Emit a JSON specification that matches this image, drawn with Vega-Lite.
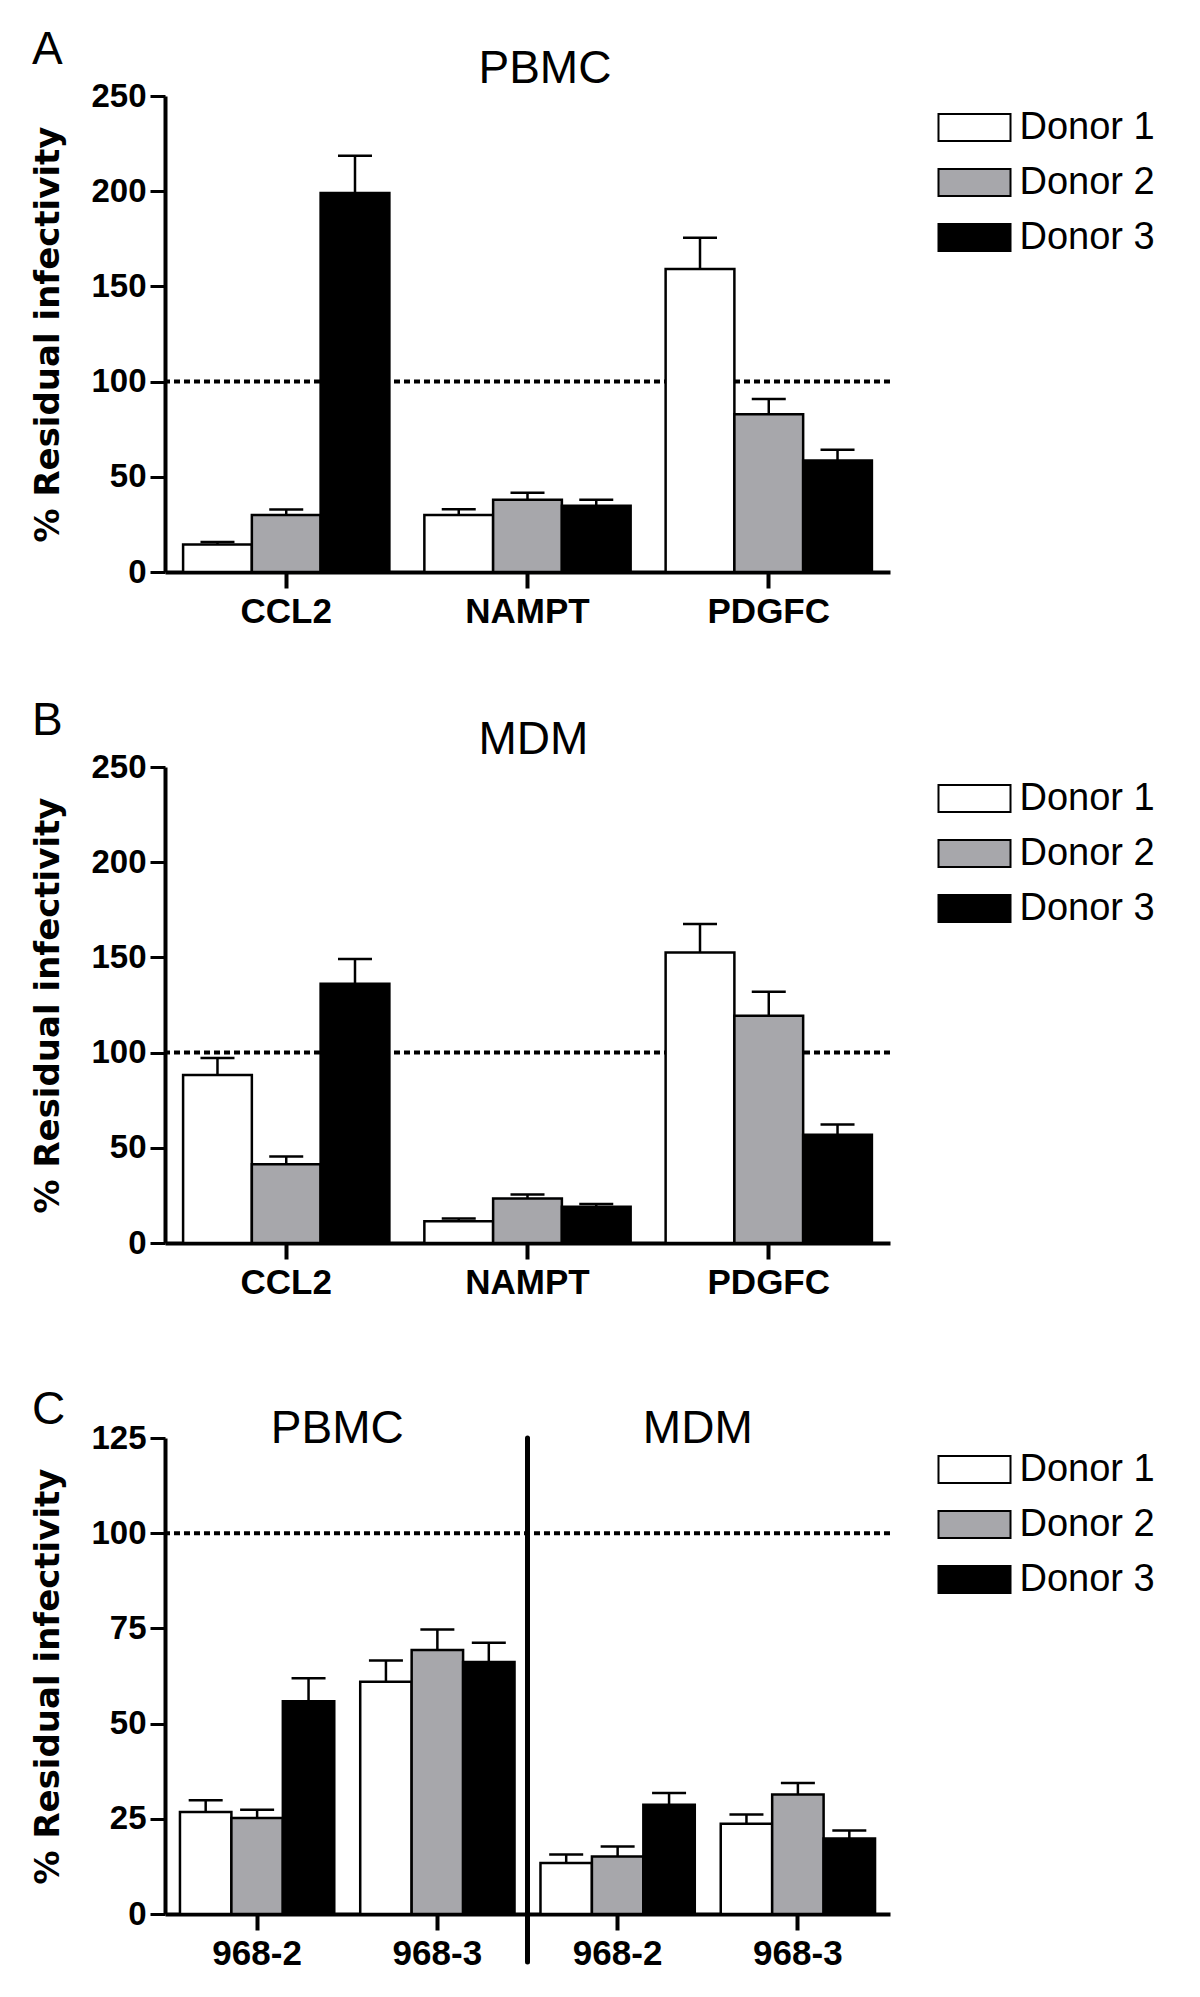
{
  "$schema": "https://vega.github.io/schema/vega-lite/v6.json",
  "background": "white",
  "padding": {"left": 31, "top": 26, "right": 0, "bottom": 0},
  "autosize": {"type": "pad"},
  "config": {
    "view": {"stroke": null},
    "font": "Liberation Sans",
    "axis": {"domainColor": "black", "domainWidth": 4, "tickColor": "black", "labelColor": "black", "labelFont": "Liberation Sans", "labelFontWeight": "bold", "labelFontSize": 33, "grid": false, "titleColor": "black"},
    "axisY": {"tickSize": 15, "tickWidth": 3, "labelPadding": 4, "titleFont": "DejaVu Sans", "titleFontWeight": "bold", "titleFontSize": 34, "titlePadding": 25},
    "axisX": {"tickSize": 16, "tickWidth": 4, "labelPadding": 6, "labelAngle": 0, "labelFontSize": 35},
    "legend": {"orient": "right", "offset": 35.5, "padding": 12.5, "labelFont": "Liberation Sans", "labelFontSize": 38, "labelColor": "black", "labelOffset": 26, "symbolOffset": 17, "rowPadding": 17, "symbolSize": 729, "symbolStrokeColor": "black", "symbolStrokeWidth": 2},
    "title": {"anchor": "start", "frame": "bounds", "font": "Liberation Sans", "fontSize": 46, "fontWeight": "normal", "color": "black", "offset": 0, "baseline": "alphabetic", "dy": 31.5}
  },
  "datasets": {
    "pbmc": [
      {"cat": "CCL2", "donor": "Donor 1", "value": 14.5, "upper": 15.8},
      {"cat": "CCL2", "donor": "Donor 2", "value": 30.0, "upper": 32.8},
      {"cat": "CCL2", "donor": "Donor 3", "value": 199.0, "upper": 218.6},
      {"cat": "NAMPT", "donor": "Donor 1", "value": 30.0, "upper": 33.0},
      {"cat": "NAMPT", "donor": "Donor 2", "value": 38.0, "upper": 41.6},
      {"cat": "NAMPT", "donor": "Donor 3", "value": 34.8, "upper": 38.0},
      {"cat": "PDGFC", "donor": "Donor 1", "value": 159.2, "upper": 175.5},
      {"cat": "PDGFC", "donor": "Donor 2", "value": 82.8, "upper": 90.8},
      {"cat": "PDGFC", "donor": "Donor 3", "value": 58.6, "upper": 64.2}
    ],
    "mdm": [
      {"cat": "CCL2", "donor": "Donor 1", "value": 88.2, "upper": 97.2},
      {"cat": "CCL2", "donor": "Donor 2", "value": 41.3, "upper": 45.4},
      {"cat": "CCL2", "donor": "Donor 3", "value": 136.2, "upper": 149.2},
      {"cat": "NAMPT", "donor": "Donor 1", "value": 11.4, "upper": 12.9},
      {"cat": "NAMPT", "donor": "Donor 2", "value": 23.4, "upper": 25.5},
      {"cat": "NAMPT", "donor": "Donor 3", "value": 19.0, "upper": 20.5},
      {"cat": "PDGFC", "donor": "Donor 1", "value": 152.6, "upper": 167.5},
      {"cat": "PDGFC", "donor": "Donor 2", "value": 119.4, "upper": 131.9},
      {"cat": "PDGFC", "donor": "Donor 3", "value": 56.8, "upper": 62.2}
    ],
    "clones": [
      {"cat": "PBMC|968-2", "donor": "Donor 1", "value": 26.8, "upper": 29.9},
      {"cat": "PBMC|968-2", "donor": "Donor 2", "value": 25.2, "upper": 27.4},
      {"cat": "PBMC|968-2", "donor": "Donor 3", "value": 55.9, "upper": 61.9},
      {"cat": "PBMC|968-3", "donor": "Donor 1", "value": 61.0, "upper": 66.6},
      {"cat": "PBMC|968-3", "donor": "Donor 2", "value": 69.3, "upper": 74.7},
      {"cat": "PBMC|968-3", "donor": "Donor 3", "value": 66.2, "upper": 71.2},
      {"cat": "MDM|968-2", "donor": "Donor 1", "value": 13.4, "upper": 15.6},
      {"cat": "MDM|968-2", "donor": "Donor 2", "value": 15.1, "upper": 17.7},
      {"cat": "MDM|968-2", "donor": "Donor 3", "value": 28.7, "upper": 31.8},
      {"cat": "MDM|968-3", "donor": "Donor 1", "value": 23.7, "upper": 26.1},
      {"cat": "MDM|968-3", "donor": "Donor 2", "value": 31.4, "upper": 34.4},
      {"cat": "MDM|968-3", "donor": "Donor 3", "value": 19.8, "upper": 21.9}
    ]
  },
  "vconcat": [
    {
      "width": 725, "height": 476,
      "title": {"text": "A"},
      "layer": [
        {
          "data": {"values": [{"ref": 100}]},
          "mark": {"type": "rule", "strokeDash": [6, 4], "strokeWidth": 4, "color": "black"},
          "encoding": {"y": {"field": "ref", "type": "quantitative", "scale": {"domain": [0, 250], "nice": false}, "title": "% Residual infectivity", "axis": {"values": [0, 50, 100, 150, 200, 250]}}}
        },
        {
          "data": {"name": "pbmc"},
          "mark": {"type": "bar", "stroke": "black", "strokeWidth": 2.5},
          "encoding": {
            "x": {"field": "cat", "type": "nominal", "title": null, "scale": {"domain": ["CCL2", "NAMPT", "PDGFC"], "paddingInner": 0.145, "paddingOuter": 0.075}},
            "xOffset": {"field": "donor", "type": "nominal", "scale": {"paddingInner": 0, "paddingOuter": 0}},
            "y": {"field": "value", "type": "quantitative", "scale": {"domain": [0, 250], "nice": false}, "title": "% Residual infectivity", "axis": {"values": [0, 50, 100, 150, 200, 250]}},
            "fill": {"field": "donor", "type": "nominal", "scale": {"domain": ["Donor 1", "Donor 2", "Donor 3"], "range": ["#ffffff", "#a7a7ab", "#000000"]}, "legend": {"title": null, "symbolType": "M-2.667,-1H2.667V1H-2.667Z"}}
          }
        },
        {
          "data": {"name": "pbmc"},
          "mark": {"type": "rule", "strokeWidth": 2.5, "color": "black"},
          "encoding": {
            "x": {"field": "cat", "type": "nominal", "title": null, "scale": {"domain": ["CCL2", "NAMPT", "PDGFC"], "paddingInner": 0.145, "paddingOuter": 0.075}},
            "xOffset": {"field": "donor", "type": "nominal", "scale": {"paddingInner": 0, "paddingOuter": 0}},
            "y": {"field": "value", "type": "quantitative", "scale": {"domain": [0, 250], "nice": false}, "title": "% Residual infectivity"},
            "y2": {"field": "upper"}
          }
        },
        {
          "data": {"name": "pbmc"},
          "mark": {"type": "tick", "size": 34, "thickness": 2.5, "color": "black", "opacity": 1},
          "encoding": {
            "x": {"field": "cat", "type": "nominal", "title": null, "scale": {"domain": ["CCL2", "NAMPT", "PDGFC"], "paddingInner": 0.145, "paddingOuter": 0.075}},
            "xOffset": {"field": "donor", "type": "nominal", "scale": {"paddingInner": 0, "paddingOuter": 0}},
            "y": {"field": "upper", "type": "quantitative", "scale": {"domain": [0, 250], "nice": false}, "title": "% Residual infectivity"}
          }
        },
        {
          "data": {"values": [{"label": "PBMC", "cat": "NAMPT"}]},
          "mark": {"type": "text", "align": "left", "baseline": "alphabetic", "dx": -49, "dy": -13, "fontSize": 46, "font": "Liberation Sans", "color": "black"},
          "encoding": {
            "x": {"field": "cat", "type": "nominal", "title": null, "scale": {"domain": ["CCL2", "NAMPT", "PDGFC"], "paddingInner": 0.145, "paddingOuter": 0.075}},
            "y": {"datum": 250, "type": "quantitative", "scale": {"domain": [0, 250], "nice": false}, "title": "% Residual infectivity"},
            "text": {"field": "label"}
          }
        }
      ]
    },
    {
      "width": 725, "height": 476,
      "title": {"text": "B"},
      "layer": [
        {
          "data": {"values": [{"ref": 100}]},
          "mark": {"type": "rule", "strokeDash": [6, 4], "strokeWidth": 4, "color": "black"},
          "encoding": {"y": {"field": "ref", "type": "quantitative", "scale": {"domain": [0, 250], "nice": false}, "title": "% Residual infectivity", "axis": {"values": [0, 50, 100, 150, 200, 250]}}}
        },
        {
          "data": {"name": "mdm"},
          "mark": {"type": "bar", "stroke": "black", "strokeWidth": 2.5},
          "encoding": {
            "x": {"field": "cat", "type": "nominal", "title": null, "scale": {"domain": ["CCL2", "NAMPT", "PDGFC"], "paddingInner": 0.145, "paddingOuter": 0.075}},
            "xOffset": {"field": "donor", "type": "nominal", "scale": {"paddingInner": 0, "paddingOuter": 0}},
            "y": {"field": "value", "type": "quantitative", "scale": {"domain": [0, 250], "nice": false}, "title": "% Residual infectivity", "axis": {"values": [0, 50, 100, 150, 200, 250]}},
            "fill": {"field": "donor", "type": "nominal", "scale": {"domain": ["Donor 1", "Donor 2", "Donor 3"], "range": ["#ffffff", "#a7a7ab", "#000000"]}, "legend": {"title": null, "symbolType": "M-2.667,-1H2.667V1H-2.667Z"}}
          }
        },
        {
          "data": {"name": "mdm"},
          "mark": {"type": "rule", "strokeWidth": 2.5, "color": "black"},
          "encoding": {
            "x": {"field": "cat", "type": "nominal", "title": null, "scale": {"domain": ["CCL2", "NAMPT", "PDGFC"], "paddingInner": 0.145, "paddingOuter": 0.075}},
            "xOffset": {"field": "donor", "type": "nominal", "scale": {"paddingInner": 0, "paddingOuter": 0}},
            "y": {"field": "value", "type": "quantitative", "scale": {"domain": [0, 250], "nice": false}, "title": "% Residual infectivity"},
            "y2": {"field": "upper"}
          }
        },
        {
          "data": {"name": "mdm"},
          "mark": {"type": "tick", "size": 34, "thickness": 2.5, "color": "black", "opacity": 1},
          "encoding": {
            "x": {"field": "cat", "type": "nominal", "title": null, "scale": {"domain": ["CCL2", "NAMPT", "PDGFC"], "paddingInner": 0.145, "paddingOuter": 0.075}},
            "xOffset": {"field": "donor", "type": "nominal", "scale": {"paddingInner": 0, "paddingOuter": 0}},
            "y": {"field": "upper", "type": "quantitative", "scale": {"domain": [0, 250], "nice": false}, "title": "% Residual infectivity"}
          }
        },
        {
          "data": {"values": [{"label": "MDM", "cat": "NAMPT"}]},
          "mark": {"type": "text", "align": "left", "baseline": "alphabetic", "dx": -49, "dy": -13, "fontSize": 46, "font": "Liberation Sans", "color": "black"},
          "encoding": {
            "x": {"field": "cat", "type": "nominal", "title": null, "scale": {"domain": ["CCL2", "NAMPT", "PDGFC"], "paddingInner": 0.145, "paddingOuter": 0.075}},
            "y": {"datum": 250, "type": "quantitative", "scale": {"domain": [0, 250], "nice": false}, "title": "% Residual infectivity"},
            "text": {"field": "label"}
          }
        }
      ]
    },
    {
      "width": 725, "height": 476,
      "title": {"text": "C"},
      "layer": [
        {
          "data": {"values": [{"ref": 100}]},
          "mark": {"type": "rule", "strokeDash": [6, 4], "strokeWidth": 4, "color": "black"},
          "encoding": {"y": {"field": "ref", "type": "quantitative", "scale": {"domain": [0, 125], "nice": false}, "title": "% Residual infectivity", "axis": {"values": [0, 25, 50, 75, 100, 125]}}}
        },
        {
          "data": {"name": "clones"},
          "mark": {"type": "bar", "stroke": "black", "strokeWidth": 2.5},
          "encoding": {
            "x": {"field": "cat", "type": "nominal", "title": null, "scale": {"domain": ["PBMC|968-2", "PBMC|968-3", "MDM|968-2", "MDM|968-3"], "paddingInner": 0.144, "paddingOuter": 0.083}, "axis": {"labelExpr": "split(datum.label, '|')[1]"}},
            "xOffset": {"field": "donor", "type": "nominal", "scale": {"paddingInner": 0, "paddingOuter": 0}},
            "y": {"field": "value", "type": "quantitative", "scale": {"domain": [0, 125], "nice": false}, "title": "% Residual infectivity", "axis": {"values": [0, 25, 50, 75, 100, 125]}},
            "fill": {"field": "donor", "type": "nominal", "scale": {"domain": ["Donor 1", "Donor 2", "Donor 3"], "range": ["#ffffff", "#a7a7ab", "#000000"]}, "legend": {"title": null, "symbolType": "M-2.667,-1H2.667V1H-2.667Z"}}
          }
        },
        {
          "data": {"name": "clones"},
          "mark": {"type": "rule", "strokeWidth": 2.5, "color": "black"},
          "encoding": {
            "x": {"field": "cat", "type": "nominal", "title": null, "scale": {"domain": ["PBMC|968-2", "PBMC|968-3", "MDM|968-2", "MDM|968-3"], "paddingInner": 0.144, "paddingOuter": 0.083}},
            "xOffset": {"field": "donor", "type": "nominal", "scale": {"paddingInner": 0, "paddingOuter": 0}},
            "y": {"field": "value", "type": "quantitative", "scale": {"domain": [0, 125], "nice": false}, "title": "% Residual infectivity"},
            "y2": {"field": "upper"}
          }
        },
        {
          "data": {"name": "clones"},
          "mark": {"type": "tick", "size": 34, "thickness": 2.5, "color": "black", "opacity": 1},
          "encoding": {
            "x": {"field": "cat", "type": "nominal", "title": null, "scale": {"domain": ["PBMC|968-2", "PBMC|968-3", "MDM|968-2", "MDM|968-3"], "paddingInner": 0.144, "paddingOuter": 0.083}},
            "xOffset": {"field": "donor", "type": "nominal", "scale": {"paddingInner": 0, "paddingOuter": 0}},
            "y": {"field": "upper", "type": "quantitative", "scale": {"domain": [0, 125], "nice": false}, "title": "% Residual infectivity"}
          }
        },
        {
          "data": {"values": [{"cat": "MDM|968-2"}]},
          "mark": {"type": "rule", "strokeWidth": 5, "strokeCap": "round", "color": "black"},
          "encoding": {
            "x": {"field": "cat", "type": "nominal", "title": null, "bandPosition": -0.0841, "scale": {"domain": ["PBMC|968-2", "PBMC|968-3", "MDM|968-2", "MDM|968-3"], "paddingInner": 0.144, "paddingOuter": 0.083}},
            "y": {"datum": 125, "type": "quantitative", "scale": {"domain": [0, 125], "nice": false}, "title": "% Residual infectivity"},
            "y2": {"datum": -12.6}
          }
        },
        {
          "data": {"values": [{"label": "PBMC", "cat": "PBMC|968-3"}, {"label": "MDM", "cat": "MDM|968-3"}]},
          "mark": {"type": "text", "align": "center", "baseline": "alphabetic", "dx": -10, "dy": 5, "fontSize": 46, "font": "Liberation Sans", "color": "black"},
          "encoding": {
            "x": {"field": "cat", "type": "nominal", "title": null, "bandPosition": -0.0841, "scale": {"domain": ["PBMC|968-2", "PBMC|968-3", "MDM|968-2", "MDM|968-3"], "paddingInner": 0.144, "paddingOuter": 0.083}},
            "y": {"datum": 125, "type": "quantitative", "scale": {"domain": [0, 125], "nice": false}, "title": "% Residual infectivity"},
            "text": {"field": "label"}
          }
        }
      ]
    }
  ],
  "spacing": 195,
  "bounds": "flush",
  "resolve": {"scale": {"fill": "independent", "xOffset": "independent"}, "legend": {"fill": "independent"}}
}
